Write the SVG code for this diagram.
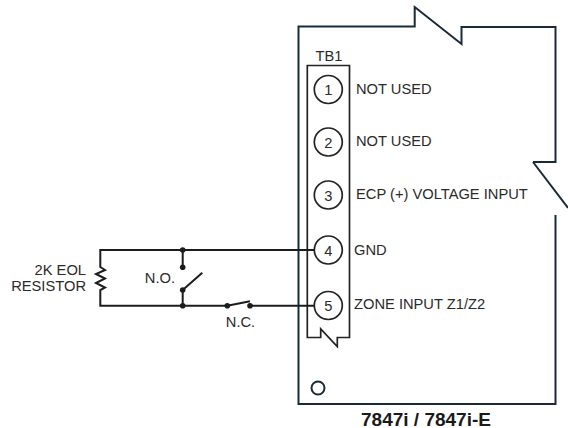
<svg xmlns="http://www.w3.org/2000/svg" width="568" height="428" viewBox="0 0 568 428">
<style>
.b{fill:none;stroke:#1a2a3a;stroke-width:2;stroke-linejoin:miter}
.k{fill:none;stroke:#222;stroke-width:1.7}
.w{fill:none;stroke:#1c1c1c;stroke-width:2}
.d{fill:#1c1c1c}
text{font-family:"Liberation Sans",Arial,sans-serif;font-size:14.7px;fill:#2a2a2a}
.e{text-anchor:end}.m{text-anchor:middle}
</style>
<rect width="568" height="428" fill="#fff"/>
<g id="board">
<path class="b" d="M533 162H555.5V27H461.5V44L414.7 7V26.5H298.5V404H555.5V215M533 162L568 208"/>
<circle cx="318" cy="388" r="6.5" fill="none" stroke="#1a2a3a" stroke-width="2"/>
<text class="m" x="426" y="425.5" style="font-weight:700;font-size:19px;fill:#1a1a1a">7847i / 7847i-E</text>
</g>
<g id="tb1">
<path class="k" d="M307.3 65.5H349.5V337.5H337.3V346.7L320.7 329V337.5H307.3Z"/>
<text class="m" x="329" y="61">TB1</text>
</g>
<g id="t1"><circle class="k" cx="328.3" cy="89.5" r="14"/><text class="m" x="328.3" y="94.5">1</text><text x="356" y="94">NOT USED</text></g>
<g id="t2"><circle class="k" cx="328.3" cy="142" r="14"/><text class="m" x="328.3" y="147.5">2</text><text x="356" y="145.5">NOT USED</text></g>
<g id="t3"><circle class="k" cx="328.3" cy="195" r="14"/><text class="m" x="328.3" y="200.5">3</text><text x="356" y="199">ECP (+) VOLTAGE INPUT</text></g>
<g id="t4"><circle class="k" cx="328.3" cy="250" r="14"/><text class="m" x="328.3" y="255.5">4</text><text x="354" y="255">GND</text></g>
<g id="t5"><circle class="k" cx="328.3" cy="305.5" r="14"/><text class="m" x="328.3" y="311">5</text><text x="354" y="309">ZONE INPUT Z1/Z2</text></g>
<g id="connectors">
<path class="w" d="M314.3 250H100.3V267L105 270L96 274L105 278.5L96 283L105 287.5L100.3 290V305.7H227.3M250 305.7H314.3"/>
<path class="w" d="M182.7 250V267M182.7 290L202.3 272.7M182.7 290V305.7M227.3 305.7L250 301.3"/>
<circle class="d" cx="182.7" cy="250" r="2.8"/><circle class="d" cx="182.7" cy="267.3" r="2.8"/><circle class="d" cx="182.7" cy="290" r="2.8"/><circle class="d" cx="182.7" cy="305.7" r="2.8"/><circle class="d" cx="227.3" cy="305.7" r="2.8"/><circle class="d" cx="250" cy="305.7" r="2.8"/>
</g>
<g id="labels">
<text class="e" x="86" y="275">2K EOL</text>
<text class="e" x="86" y="291">RESISTOR</text>
<text class="e" x="175" y="283">N.O.</text>
<text class="m" x="240.5" y="327">N.C.</text>
</g>
</svg>
